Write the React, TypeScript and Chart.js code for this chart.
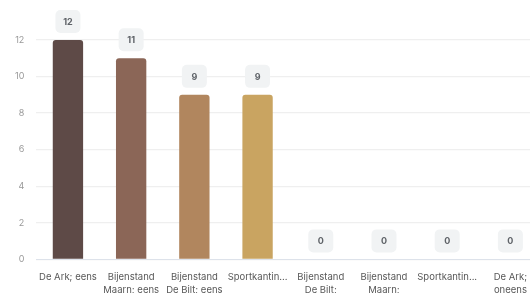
import React, { useEffect, useRef } from "react";
import { Chart, registerables } from "chart.js";

Chart.register(...registerables);

const categories: string[][] = [
  ["De Ark; eens"],
  ["Bijenstand", "Maarn; eens"],
  ["Bijenstand", "De Bilt; eens"],
  ["Sportkantin..."],
  ["Bijenstand", "De Bilt;"],
  ["Bijenstand", "Maarn;"],
  ["Sportkantin..."],
  ["De Ark;", "oneens"],
];
const values: number[] = [12, 11, 9, 9, 0, 0, 0, 0];
const barColors: string[] = [
  "#5e4a47",
  "#8b6657",
  "#b1865e",
  "#c9a461",
  "#c9a461",
  "#c9a461",
  "#c9a461",
  "#c9a461",
];
const yTicks = { min: 0, max: 12, step: 2 };

const valueBoxPlugin = {
  id: "valueBoxes",
  afterDatasetsDraw(chart: any) {
    const ctx = chart.ctx as CanvasRenderingContext2D;
    const meta = chart.getDatasetMeta(0);
    const data = chart.data.datasets[0].data as number[];
    ctx.save();
    meta.data.forEach((bar: any, i: number) => {
      const w = 25;
      const h = 23;
      const x = bar.x - w / 2;
      const y = bar.y - 7 - h;
      ctx.fillStyle = "#f1f3f4";
      ctx.beginPath();
      (ctx as any).roundRect(x, y, w, h, 5);
      ctx.fill();
      ctx.fillStyle = "#5f6368";
      ctx.font = "bold 9px Inter";
      ctx.textAlign = "center";
      ctx.textBaseline = "middle";
      ctx.fillText(String(data[i]), bar.x, y + h / 2 + 0.5);
    });
    ctx.restore();
  },
};

export default function App() {
  const ref = useRef<HTMLCanvasElement | null>(null);
  useEffect(() => {
    if (!ref.current) return;
    const chart = new Chart(ref.current, {
      type: "bar",
      data: {
        labels: categories,
        datasets: [
          {
            data: values,
            backgroundColor: barColors,
            borderRadius: 3,
            borderSkipped: "bottom",
            barPercentage: 0.48,
            categoryPercentage: 1,
          },
        ],
      },
      options: {
        animation: false,
        responsive: false,
        devicePixelRatio: 1,
        layout: { padding: { top: 40, left: 3, right: 4, bottom: -15 } },
        plugins: { legend: { display: false }, tooltip: { enabled: false } },
        scales: {
          x: {
            grid: { display: false, drawTicks: false },
            border: { display: true, color: "#dde2ea", width: 1 },
            ticks: {
              color: "#585858",
              font: { family: "Inter", size: 9.5, lineHeight: 1.4 },
              padding: 11,
              maxRotation: 0,
              autoSkip: false,
            },
          },
          y: {
            min: yTicks.min,
            max: yTicks.max,
            grid: { color: "#efefef", drawTicks: false, lineWidth: 1.3 },
            border: { display: false },
            ticks: {
              stepSize: yTicks.step,
              color: "#999",
              font: { family: "Inter", size: 9 },
              padding: 12,
            },
          },
        },
      },
      plugins: [valueBoxPlugin],
    });
    return () => chart.destroy();
  }, []);
  return (
    <div
      style={{
        position: "fixed",
        left: 0,
        top: 0,
        width: 530,
        height: 293,
        overflow: "hidden",
        background: "#fff",
      }}
    >
      <canvas ref={ref} width={546} height={293} style={{ display: "block" }} />
    </div>
  );
}
